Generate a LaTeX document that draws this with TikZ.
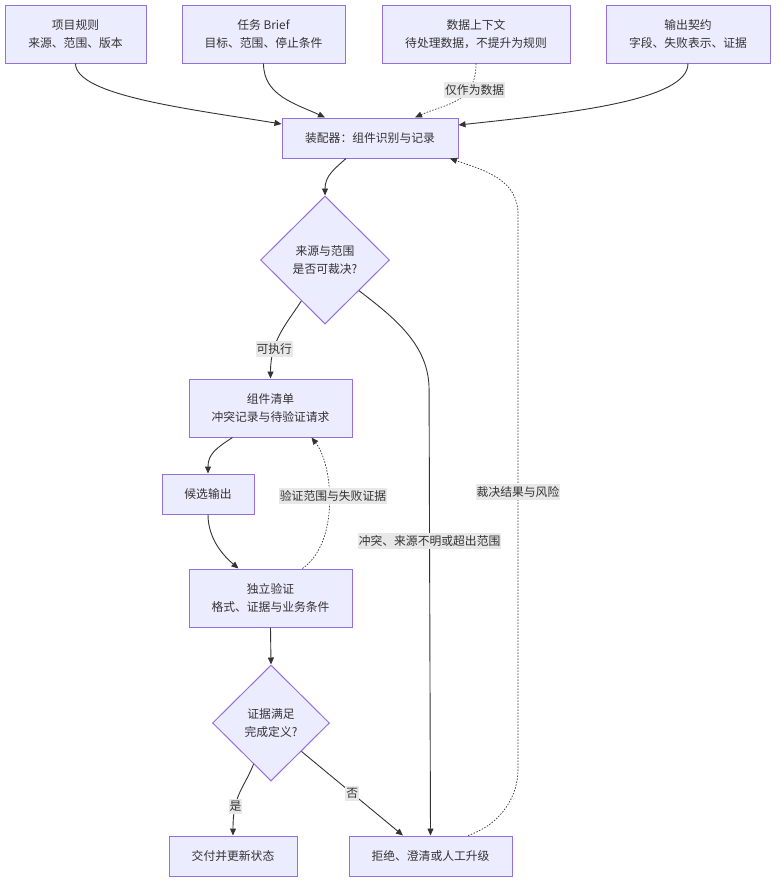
\documentclass[tikz,border=0pt]{standalone}
\usepackage{fontspec}
\setmainfont{Noto Sans CJK SC}
\usepackage{tikz}
\usetikzlibrary{shapes.geometric, arrows.meta}

\definecolor{cajafondo}{HTML}{ECECFF}
\definecolor{cajaborde}{HTML}{9370DB}
\definecolor{linea}{HTML}{333333}
\definecolor{etiqfondo}{HTML}{E8E8E8}

\begin{document}
\begin{tikzpicture}[x=1pt, y=-1pt,
        caja/.style={draw=cajaborde, fill=cajafondo, line width=1pt, text=linea, align=center,
            inner sep=0pt, font=\fontsize{11.8}{18}\selectfont},
        rombo/.style={caja, diamond, aspect=1},
        flecha/.style={draw=linea, line width=0.9pt, -{Triangle[length=7pt,width=6pt]}},
        punteada/.style={flecha, line width=0.7pt, dash pattern=on 1.5pt off 1.5pt},
        etiqueta/.style={fill=etiqfondo, text=linea, inner xsep=1pt, inner ysep=2.5pt,
            font=\fontsize{11.8}{14}\selectfont}]
            \useasboundingbox (0,0) rectangle (784,892);

            % Entradas
            \node[caja, minimum width=141pt, minimum height=58pt] (reglas) at (75.5,34) {项目规则\\来源、范围、版本};
            \node[caja, minimum width=163pt, minimum height=58pt] (brief) at (263.5,34) {任务 Brief\\目标、范围、停止条件};
            \node[caja, minimum width=188pt, minimum height=58pt] (datos) at (476,34) {数据上下文\\待处理数据，不提升为规则};
            \node[caja, minimum width=164pt, minimum height=58pt] (contrato) at (688,34) {输出契约\\字段、失败表示、证据};

            % Ensamblador y decisiones
            \node[caja, minimum width=176pt, minimum height=40pt] (ensamblador) at (370,138) {装配器：组件识别与记录};
            \node[rombo, minimum width=129pt, minimum height=128pt] (decision) at (325,260) {来源与范围\\是否可裁决?};
            \node[caja, minimum width=163pt, minimum height=58pt] (inventario) at (270.5,408) {组件清单\\冲突记录与待验证请求};
            \node[caja, minimum width=92pt, minimum height=40pt] (candidata) at (208,494) {候选输出};
            \node[caja, minimum width=163pt, minimum height=58pt] (verificacion) at (270.5,598) {独立验证\\格式、证据与业务条件};
            \node[rombo, minimum width=117pt, minimum height=116pt] (completo) at (271,723) {证据满足\\完成定义?};

            % Salidas
            \node[caja, minimum width=128pt, minimum height=40pt] (entrega) at (233,856) {交付并更新状态};
            \node[caja, minimum width=163pt, minimum height=40pt] (rechazo) at (430.5,856) {拒绝、澄清或人工升级};

            % Entradas hacia el ensamblador
            \draw[flecha] (reglas.south) .. controls +(0,32) and +(-92,-15) .. ([yshift=14pt]ensamblador.west);
            \draw[flecha] (brief.south) .. controls +(0,32) and +(-30,-14) .. ([xshift=-45pt]ensamblador.north);
            \draw[punteada] (datos.south) .. controls +(0,40) and +(31,-14) .. ([xshift=45pt]ensamblador.north)
                node[etiqueta, pos=0.3, xshift=6pt] (lblDatos) {仅作为数据};
            \draw[flecha] (contrato.south) .. controls +(0,37) and +(112,-12) .. ([yshift=13pt]ensamblador.east);

            % Primera decision
            \draw[flecha] ([xshift=-24pt]ensamblador.south) .. controls +(-11,10) and +(0,-20) .. (decision.north);
            \draw[flecha] (decision.-120) .. controls +(-15,23) and +(0,-38) .. (inventario.north)
                node[etiqueta, pos=0.7] (lblEjecutable) {可执行};
            \draw[flecha] (decision.-42) .. controls +(35,27) and +(0,-45) .. ++(70,99) -- (rechazo.north)
                node[etiqueta, pos=0.34] (lblConflicto) {冲突、来源不明或超出范围};

            % Ciclo de verificacion
            \draw[flecha] ([xshift=-38pt]inventario.south) .. controls +(-17,11) and +(0,-19) .. (candidata.north);
            \draw[flecha] (candidata.south) .. controls +(0,26) and +(-13,-11) .. ([xshift=-32pt]verificacion.north);
            \draw[punteada] ([xshift=32pt]verificacion.north) .. controls +(37,-26) and +(22,28) .. ([xshift=41pt]inventario.south)
                node[etiqueta, pos=0.55, xshift=4pt] (lblRango) {验证范围与失败证据};
            \draw[flecha] (verificacion.south) -- (completo.north);

            % Segunda decision
            \draw[flecha] (completo.-113) .. controls +(-10,25) and +(0,-41) .. (entrega.north)
                node[etiqueta, pos=0.7] (lblSi) {是};
            \draw[flecha] (completo.-43) -- ([xshift=-27.5pt]rechazo.north)
                node[etiqueta, midway] (lblNo) {否};

            % Retorno al ensamblador
            \draw[punteada] ([xshift=37.5pt]rechazo.north) .. controls +(35,-12) and +(0,25) .. ++(50,-66)
                -- ++(0,-555) node[etiqueta, pos=0.5] (lblRiesgo) {裁决结果与风险}
                .. controls +(0,-35) and +(35,12) .. ([xshift=80pt]ensamblador.south);
        \end{tikzpicture}
\end{document}
